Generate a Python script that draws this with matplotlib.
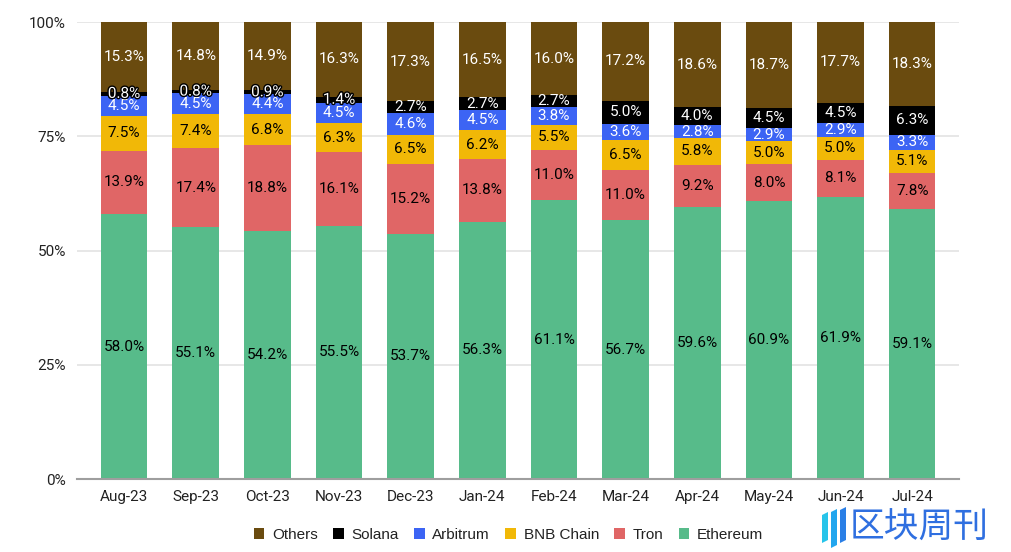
import matplotlib
matplotlib.use("Agg")
import matplotlib.pyplot as plt
import numpy as np
from matplotlib.patches import Patch, Polygon
import matplotlib.patheffects as pe

months = ["Aug-23", "Sep-23", "Oct-23", "Nov-23", "Dec-23", "Jan-24",
          "Feb-24", "Mar-24", "Apr-24", "May-24", "Jun-24", "Jul-24"]
ethereum = [58.0, 55.1, 54.2, 55.5, 53.7, 56.3, 61.1, 56.7, 59.6, 60.9, 61.9, 59.1]
tron = [13.9, 17.4, 18.8, 16.1, 15.2, 13.8, 11.0, 11.0, 9.2, 8.0, 8.1, 7.8]
bnb = [7.5, 7.4, 6.8, 6.3, 6.5, 6.2, 5.5, 6.5, 5.8, 5.0, 5.0, 5.1]
arbitrum = [4.5, 4.5, 4.4, 4.5, 4.6, 4.5, 3.8, 3.6, 2.8, 2.9, 2.9, 3.3]
solana = [0.8, 0.8, 0.9, 1.4, 2.7, 2.7, 2.7, 5.0, 4.0, 4.5, 4.5, 6.3]
others = [15.3, 14.8, 14.9, 16.3, 17.3, 16.5, 16.0, 17.2, 18.6, 18.7, 17.7, 18.3]

series = [
    ("Ethereum", ethereum, "#57bb8a", "black"),
    ("Tron", tron, "#e06666", "black"),
    ("BNB Chain", bnb, "#f1b807", "black"),
    ("Arbitrum", arbitrum, "#3c64f4", "white"),
    ("Solana", solana, "#000000", "white"),
    ("Others", others, "#6a4b0f", "white"),
]

fig = plt.figure(figsize=(10.11, 5.52), dpi=100)
ax = fig.add_axes([0.076, 0.132, 0.873, 0.828])

x = np.arange(len(months))
totals = np.sum([np.array(s[1]) for s in series], axis=0)
bottom = np.zeros(len(months))
for name, vals, color, tcolor in series:
    v = np.array(vals) / totals * 100
    ax.bar(x, v, bottom=bottom, width=0.65, color=color, zorder=3, linewidth=0)
    for i in range(len(months)):
        yc = bottom[i] + v[i] / 2
        kw = {}
        if name == "Solana" and vals[i] < 2:
            kw["path_effects"] = [pe.withStroke(linewidth=2, foreground="black")]
        ax.text(x[i], yc, f"{vals[i]:.1f}%", ha="center", va="center",
                color=tcolor, fontsize=11, family="Roboto", zorder=4, **kw)
    bottom += v

ax.set_xlim(-0.66, 11.66)
ax.set_ylim(0, 100)
ax.set_yticks([0, 25, 50, 75, 100])
ax.set_yticklabels(["0%", "25%", "50%", "75%", "100%"])
ax.set_xticks(x)
ax.set_xticklabels(months)
for lbl in ax.get_xticklabels() + ax.get_yticklabels():
    lbl.set_fontfamily("Roboto")
    lbl.set_fontsize(11)
    lbl.set_color("#222222")
ax.tick_params(axis="both", length=0)
ax.tick_params(axis="y", pad=8)
ax.tick_params(axis="x", pad=8)
for s in ["top", "right", "left"]:
    ax.spines[s].set_visible(False)
ax.spines["bottom"].set_color("#9e9e9e")
ax.spines["bottom"].set_linewidth(1.5)
ax.spines["bottom"].set_zorder(5)
ax.grid(axis="y", color="#e3e3e3", linewidth=1.2, zorder=0)
ax.set_axisbelow(True)

handles = [Patch(facecolor=c, label=n) for n, _, c, _ in series[::-1]]
leg = fig.legend(handles=handles, loc="center", bbox_to_anchor=(0.503, 0.031),
                 ncol=6, frameon=False, handlelength=0.7, handleheight=0.7,
                 handletextpad=0.5, columnspacing=1.0,
                 prop={"family": "Liberation Sans", "size": 11})
for t in leg.get_texts():
    t.set_color("#222222")

# watermark logo
W, H = 1011.0, 552.0
def px(xp, yp):
    return (xp / W, 1 - yp / H)
for (x0, x1, top, bot), col in [((822, 828, 515, 540), "#27c4ea"),
                                ((831, 837, 512, 545), "#22a6ee"),
                                ((840, 846, 510, 540), "#2a7fe6")]:
    poly = Polygon([px(x0, top), px(x1, top - 3), px(x1, bot), px(x0, bot + 3)],
                   closed=True, transform=fig.transFigure, facecolor=col,
                   edgecolor="none")
    fig.patches.append(poly)
fig.text(850 / W, 1 - 528 / H, "区块周刊", family="Noto Sans CJK SC", fontsize=25,
         color="#2f6fe0", ha="left", va="center")

fig.savefig("out.png", dpi=100)
